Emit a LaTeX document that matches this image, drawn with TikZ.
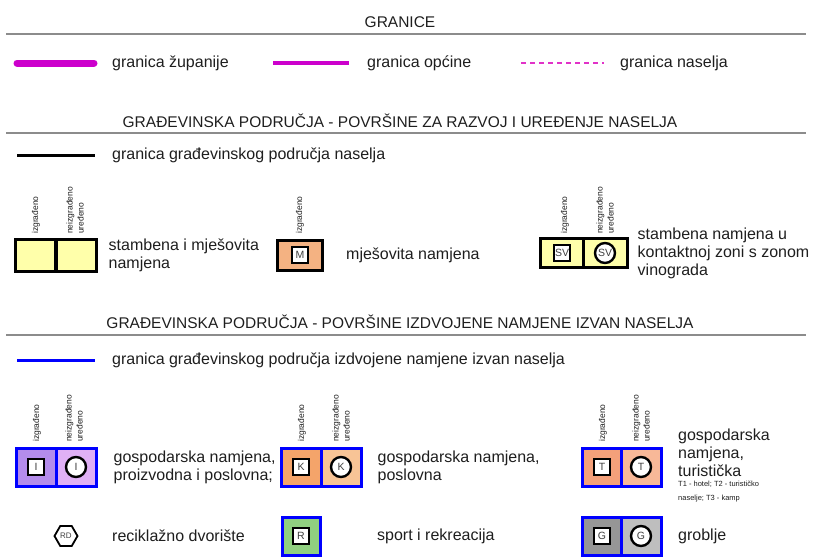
\documentclass[tikz,border=0pt]{standalone}
\usepackage{fontspec}
\setmainfont{Liberation Sans}
\usepackage{tikz}
\usetikzlibrary{positioning,shapes.geometric}

\definecolor{granmag}{RGB}{204,0,204}
\definecolor{nasmag}{RGB}{225,50,200}
\definecolor{hdrgray}{RGB}{140,140,140}
\definecolor{txtgray}{RGB}{30,30,30}
\definecolor{yelfill}{RGB}{255,255,170}
\definecolor{mfill}{RGB}{244,178,130}
\definecolor{ilfill}{RGB}{180,140,235}
\definecolor{irfill}{RGB}{224,176,245}
\definecolor{klfill}{RGB}{244,164,106}
\definecolor{krfill}{RGB}{248,196,150}
\definecolor{tlfill}{RGB}{244,160,122}
\definecolor{trfill}{RGB}{248,184,152}
\definecolor{rfill}{RGB}{144,208,128}
\definecolor{glfill}{RGB}{150,150,150}
\definecolor{grfill}{RGB}{190,190,190}
\definecolor{izblue}{RGB}{0,0,255}

\begin{document}
\begin{tikzpicture}[
    x=1pt, y=-1pt,
    hdr/.style={font=\fontsize{15.5}{18}\selectfont, text=txtgray, inner sep=0pt},
    hdrline/.style={draw=hdrgray, line width=2pt},
    legtext/.style={font=\fontsize{16}{18}\selectfont, text=txtgray, align=left, inner sep=0pt},
    smalltext/.style={font=\fontsize{7.5}{13.5}\selectfont, text=txtgray, align=left, inner sep=0pt},
    vlabel/.style={rotate=90, anchor=west, align=left, font=\fontsize{8.5}{11}\selectfont, text=txtgray, inner sep=0pt},
    cell/.style={draw=black, line width=3pt, minimum width=40pt, minimum height=32pt, inner sep=0pt},
    cellb/.style={cell, draw=izblue, minimum height=38pt},
    tag/.style={draw, line width=1.4pt, fill=white, minimum size=16pt, inner sep=0pt, text=black!75, font=\fontsize{10.5}{11}\selectfont},
    ring/.style={circle, draw, line width=2.4pt, fill=white, minimum size=20pt, inner sep=0pt, text=black!75, font=\fontsize{10.5}{11}\selectfont}
]
\useasboundingbox (0,0) rectangle (815,557);

% granice
\node[hdr] (granice) at (400,22) {GRANICE};
\draw[hdrline] (6,34) -- (806,34);

\draw[granmag, line width=7pt, line cap=round] (17,63) -- (94,63);
\node[legtext, anchor=west] (zup) at (112,63) {granica županije};
\draw[granmag, line width=3.5pt] (273,63) -- (349,63);
\node[legtext, anchor=west] (opc) at (367,63) {granica općine};
\draw[nasmag, line width=1.4pt, dash pattern=on 5pt off 4pt] (521,63) -- (604,63);
\node[legtext, anchor=west] (nas) at (620,63) {granica naselja};

% gradjevinska podrucja naselja
\node[hdr] (hdrnas) at (400,121) {GRAĐEVINSKA PODRUČJA - POVRŠINE ZA RAZVOJ I UREĐENJE NASELJA};
\draw[hdrline] (6,133) -- (806,133);

\draw[black, line width=3pt] (17,155) -- (95,155);
\node[legtext, anchor=west] (gpn) at (112,155) {granica građevinskog područja naselja};

\node[cell, fill=yelfill] (sbL) at (35,255) {};
\node[cell, fill=yelfill] (sbR) at (76,255) {};
\node[vlabel] at (36,234) {izgrađeno};
\node[vlabel] at (75,234) {neizgrađeno\\uređeno};
\node[legtext, right=11pt of sbR] (sbt) {stambena i mješovita\\namjena};

\node[cell, fill=mfill, minimum width=45pt, minimum height=30pt] (mc) at (300,255) {};
\node[tag] (mtag) at (mc) {M};
\node[vlabel] at (300,234) {izgrađeno};
\node[legtext, right=22pt of mc] (mt) {mješovita namjena};

\node[cell, fill=yelfill, minimum width=44pt, minimum height=29pt] (svL) at (562,253) {};
\node[cell, fill=yelfill, minimum width=44pt, minimum height=29pt] (svR) at (605,253) {};
\node[tag] at (svL) {SV};
\node[ring] at (svR) {SV};
\node[vlabel] at (565,234) {izgrađeno};
\node[vlabel] at (605,234) {neizgrađeno\\uređeno};
\node[legtext, right=9pt of svR] (svt) {stambena namjena u\\kontaktnoj zoni s zonom\\vinograda};

% izdvojena namjena
\node[hdr] (hdriz) at (400,322) {GRAĐEVINSKA PODRUČJA - POVRŠINE IZDVOJENE NAMJENE IZVAN NASELJA};
\draw[hdrline] (6,335) -- (806,335);

\draw[izblue, line width=3pt] (17,360) -- (95,360);
\node[legtext, anchor=west] (gpi) at (112,360) {granica građevinskog područja izdvojene namjene izvan naselja};

\node[cellb, fill=ilfill] (iL) at (36,467) {};
\node[cellb, fill=irfill] (iR) at (76,467) {};
\node[tag] at (iL) {I};
\node[ring] at (iR) {I};
\node[vlabel] at (37,442) {izgrađeno};
\node[vlabel] at (74,442) {neizgrađeno\\uređeno};
\node[legtext, right=16pt of iR] (it) {gospodarska namjena,\\proizvodna i poslovna;};

\node[cellb, fill=klfill] (kL) at (301,467) {};
\node[cellb, fill=krfill] (kR) at (341,467) {};
\node[tag] at (kL) {K};
\node[ring] at (kR) {K};
\node[vlabel] at (302,442) {izgrađeno};
\node[vlabel] at (341,442) {neizgrađeno\\uređeno};
\node[legtext, right=15pt of kR] (kt) {gospodarska namjena,\\poslovna};

\node[cellb, fill=tlfill] (tL) at (602,467) {};
\node[cellb, fill=trfill] (tR) at (641,467) {};
\node[tag] at (tL) {T};
\node[ring] at (tR) {T};
\node[vlabel] at (603,442) {izgrađeno};
\node[vlabel] at (641,442) {neizgrađeno\\uređeno};
\node[legtext, anchor=west] (tt) at (678,453) {gospodarska\\namjena,\\turistička};
\node[smalltext, below=4pt of tt.south west, anchor=north west] (tnote) {T1 - hotel; T2 - turističko\\naselje; T3 - kamp};

\node[regular polygon, regular polygon sides=6, draw, line width=1.8pt, minimum size=23pt, inner sep=0pt, text=black!75, font=\fontsize{8}{8}\selectfont] (rd) at (66,536) {RD};
\node[legtext, anchor=west] (rdt) at (112,536) {reciklažno dvorište};

\node[cellb, fill=rfill, minimum width=38pt] (rc) at (301,536) {};
\node[tag] at (rc) {R};
\node[legtext, anchor=west] (rt) at (377,536) {sport i rekreacija};

\node[cellb, fill=glfill] (gL) at (602,536) {};
\node[cellb, fill=grfill] (gR) at (641,536) {};
\node[tag] at (gL) {G};
\node[ring] at (gR) {G};
\node[legtext, anchor=west] (gt) at (678,536) {groblje};

\end{tikzpicture}
\end{document}
